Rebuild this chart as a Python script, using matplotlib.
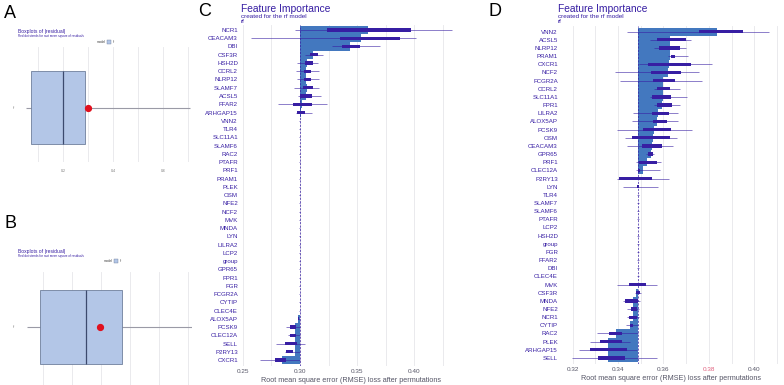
import matplotlib
matplotlib.use("Agg")
import matplotlib.pyplot as plt
from matplotlib.patches import Rectangle

plt.rcParams['font.family'] = ['Liberation Sans', 'DejaVu Sans']

W, H = 784, 385
NAVY = "#371ea3"
BAR = "#4378bf"
GRID = "#e6e6ea"

# ---------------- data ----------------
# Panel A / B : boxplots of |residual|
a_stats = dict(whislo=0.052, q1=0.072, med=0.20, q3=0.288, whishi=0.708, mean=0.30)
b_stats = dict(whislo=0.045, q1=0.090, med=0.248, q3=0.372, whishi=0.617, mean=0.297)
a_ticks = [0.2, 0.4, 0.6]
a_tick_labels = ["0.2", "0.4", "0.6"]

# Panel C : feature importance (RMSE loss after permutations)
c_baseline = 0.2998
c_features = ["NCR1", "CEACAM3", "DBI", "CSF3R", "HSH2D", "CCRL2", "NLRP12", "SLAMF7",
              "ACSL5", "FFAR2", "ARHGAP15", "VNN2", "TLR4", "SLC11A1", "SLAMF6", "RAC2",
              "PTAFR", "PRF1", "PRAM1", "PLEK", "OSM", "NFE2", "NCF2", "MVK", "MNDA", "LYN",
              "LILRA2", "LCP2", "group", "GPR65", "FPR1", "FGR", "FCGR2A", "CYTIP", "CLEC4E",
              "ALOX5AP", "PCSK9", "CLEC12A", "SELL", "P2RY13", "CXCR1"]
c_mean = [0.3594, 0.3532, 0.3439, 0.3110, 0.3060, 0.3050, 0.3050, 0.3060, 0.3050, 0.3020,
          0.3010] + [0.2998] * 24 + [0.2985, 0.2955, 0.2955, 0.2955, 0.2955, 0.2840]
c_q1 = [0.3234, 0.3350, 0.3366, 0.3089, 0.3046, 0.3038, 0.3035, 0.3029, 0.3000, 0.2942,
        0.2971] + [0.2996] * 24 + [0.2985, 0.2915, 0.2912, 0.2868, 0.2877, 0.2783]
c_q3 = [0.3971, 0.3880, 0.3526, 0.3156, 0.3117, 0.3094, 0.3094, 0.3111, 0.3103, 0.3103,
        0.3044] + [0.3000] * 24 + [0.2993, 0.2965, 0.2965, 0.2976, 0.2941, 0.2877]
c_lo = [0.2955, 0.2570, 0.3280, 0.3045, 0.2976, 0.2965, 0.2970, 0.2947, 0.2982, 0.2807,
        0.2965] + [0.2995] * 24 + [0.2980, 0.2880, 0.2895, 0.2792, 0.2870, 0.2650]
c_hi = [0.4333, 0.4015, 0.3700, 0.3203, 0.3161, 0.3170, 0.3170, 0.3170, 0.3182, 0.3240,
        0.3103] + [0.3001] * 24 + [0.3000, 0.3000, 0.3000, 0.3045, 0.3000, 0.3000]

# Panel D
d_baseline = 0.3488
d_features = ["VNN2", "ACSL5", "NLRP12", "PRAM1", "CXCR1", "NCF2", "FCGR2A", "CCRL2",
              "SLC11A1", "FPR1", "LILRA2", "ALOX5AP", "PCSK9", "OSM", "CEACAM3", "GPR65",
              "PRF1", "CLEC12A", "P2RY13", "LYN", "TLR4", "SLAMF7", "SLAMF6", "PTAFR", "LCP2",
              "HSH2D", "group", "FGR", "FFAR2", "DBI", "CLEC4E", "MVK", "CSF3R", "MNDA", "NFE2",
              "NCR1", "CYTIP", "RAC2", "PLEK", "ARHGAP15", "SELL"]
d_mean = [0.3837, 0.3629, 0.3629, 0.3629, 0.3626, 0.3620, 0.3599, 0.3600, 0.3598, 0.3592,
          0.3577, 0.3572, 0.3560, 0.3555, 0.3551, 0.3544, 0.3526, 0.3508, 0.3488, 0.3488] + \
         [0.3488] * 11 + [0.3490, 0.3480, 0.3465, 0.3465, 0.3465, 0.3453, 0.3390, 0.3357,
                          0.3357, 0.3357]
d_q1 = [0.3757, 0.3573, 0.3582, 0.3633, 0.3533, 0.3544, 0.3555, 0.3573, 0.3548, 0.3573,
        0.3548, 0.3555, 0.3511, 0.3460, 0.3504, 0.3532, 0.3494, 0.3486, 0.3406, 0.3485] + \
       [0.3486] * 11 + [0.3450, 0.3479, 0.3431, 0.3456, 0.3450, 0.3453, 0.3362, 0.3321,
                        0.3277, 0.3313]
d_q3 = [0.3951, 0.3699, 0.3673, 0.3651, 0.3720, 0.3677, 0.3651, 0.3629, 0.3633, 0.3636,
        0.3625, 0.3614, 0.3633, 0.3629, 0.3592, 0.3554, 0.3573, 0.3495, 0.3548, 0.3491] + \
       [0.3490] * 11 + [0.3523, 0.3497, 0.3489, 0.3485, 0.3485, 0.3468, 0.3416, 0.3416,
                        0.3441, 0.3431]
d_lo = [0.3438, 0.3540, 0.3560, 0.3620, 0.3492, 0.3387, 0.3409, 0.3560, 0.3540, 0.3560,
        0.3467, 0.3460, 0.3397, 0.3430, 0.3440, 0.3525, 0.3480, 0.3480, 0.3395, 0.3422] + \
       [0.3485] * 11 + [0.3397, 0.3475, 0.3420, 0.3440, 0.3440, 0.3435, 0.3309, 0.3277,
                        0.3230, 0.3196]
d_hi = [0.4065, 0.3720, 0.3700, 0.3708, 0.3812, 0.3757, 0.3768, 0.3673, 0.3705, 0.3673,
        0.3665, 0.3665, 0.3724, 0.3660, 0.3640, 0.3560, 0.3590, 0.3585, 0.3625, 0.3576] + \
       [0.3491] * 11 + [0.3570, 0.3500, 0.3497, 0.3492, 0.3492, 0.3490, 0.3489, 0.3453,
                        0.3485, 0.3570]
d_ticks = [0.32, 0.34, 0.36, 0.38, 0.40]
c_ticks = [0.25, 0.30, 0.35, 0.40]

# ---------------- layout helpers ----------------
fig = plt.figure(figsize=(W / 100, H / 100), dpi=100)


def rect(l, t, r, b):
    return [l / W, 1 - b / H, (r - l) / W, (b - t) / H]


def px(x, y):
    return x / W, 1 - y / H


# panel letters
for letter, (x, y) in zip("ABCD", [(4, 5), (4, 215), (198, 3), (489, 3)]):
    fig.text(*px(x, y), letter, fontsize=13, va="top", ha="left", color="black")


def residual_box(rect_px, st, xlim, ylim, title_y, legend_xy, show_labels=True):
    ax = fig.add_axes(rect(*rect_px))
    for s in ax.spines.values():
        s.set_visible(False)
    ax.set_xticks(a_ticks)
    ax.set_xticks([0.1, 0.3, 0.5, 0.7], minor=True)
    ax.set_xlim(*xlim)
    ax.set_ylim(*ylim)
    ax.grid(True, axis="x", which="both", color=GRID, lw=0.6)
    ax.set_axisbelow(True)
    ax.tick_params(axis="x", which="both", length=0, labelsize=2.5, colors="#777777",
                   pad=5)
    ax.set_xticklabels(a_tick_labels if show_labels else [])
    ax.set_yticks([0])
    ax.set_yticklabels(["rf"])
    ax.set_ylim(*ylim)
    ax.tick_params(axis="y", length=0, labelsize=2.5, colors="#777777", pad=2)
    ax.hlines(0, st["whislo"], st["whishi"], color="#9a9aa6", lw=0.8, zorder=2)
    ax.add_patch(Rectangle((st["q1"], -0.375), st["q3"] - st["q1"], 0.75,
                           facecolor="#b3c6e7", edgecolor="#6f7f9c", lw=0.6, zorder=3))
    ax.vlines(st["med"], -0.375, 0.375, color="#3c4a6e", lw=0.9, zorder=4)
    ax.plot([st["mean"]], [0], "o", color="#e0101e", ms=4.2, zorder=5)
    ax.set_xlim(*xlim)
    fig.text(*px(18, title_y), "Boxplots of |residual|", fontsize=3.6, color=NAVY,
             va="center")
    fig.text(*px(18, title_y + 5.5), "Red dot stands for root mean square of residuals",
             fontsize=2.2, color=NAVY, va="center")
    lx, ly = legend_xy
    fig.text(*px(lx, ly), "model", fontsize=2.4, color="#444444", va="center")
    fig.patches.append(Rectangle(px(lx + 10, ly + 2), 4 / W, 4 / H,
                                 transform=fig.transFigure, facecolor="#b3c6e7",
                                 edgecolor="#6f7f9c", lw=0.3))
    fig.text(*px(lx + 16, ly), "rf", fontsize=2.4, color="#444444", va="center")
    return ax


residual_box((18, 47, 192, 162), a_stats, (0.02, 0.716), (-0.56, 0.622), 31, (97, 42))
residual_box((18, 272, 192, 385), b_stats, (0.0138, 0.614), (-0.588, 0.557), 251,
             (104, 261), show_labels=False)


def importance(rect_px, feats, mean, q1, q3, lo, hi, base, xlim, ylim, ticks, minor,
               title_x, tick_colors=None):
    ax = fig.add_axes(rect(*rect_px))
    n = len(feats)
    ys = list(range(n))
    for s in ax.spines.values():
        s.set_visible(False)
    ax.set_xticks(ticks)
    ax.set_xticks(minor, minor=True)
    ax.set_xlim(*xlim)
    ax.grid(True, axis="x", which="both", color=GRID, lw=0.6)
    ax.set_axisbelow(True)
    ax.tick_params(axis="x", which="both", length=0, labelsize=4.6, colors="#555566",
                   pad=2)
    ax.set_xticklabels(["%.2f" % t for t in ticks])
    if tick_colors:
        for lab, c in zip(ax.get_xticklabels(), tick_colors):
            lab.set_color(c)
    ax.set_yticks(ys)
    ax.set_yticklabels(feats)
    ax.set_ylim(*ylim)
    ax.tick_params(axis="y", length=0, labelsize=4.4, colors=NAVY, pad=1.5)
    # bars from baseline to mean loss
    ax.barh(ys, [m - base for m in mean], left=base, height=1.0, color=BAR, lw=0,
            zorder=2)
    ax.axvline(base, color=NAVY, lw=0.5, ls=(0, (3, 2)), zorder=3)
    # permutation boxplots
    ax.hlines(ys, lo, hi, color=NAVY, lw=0.5, alpha=0.8, zorder=4)
    for y, a, b in zip(ys, q1, q3):
        w = max(b - a, (xlim[1] - xlim[0]) * 0.004)
        ax.add_patch(Rectangle((a, y - 0.2), w, 0.4, facecolor=NAVY, lw=0, zorder=5))
    ax.set_xlim(*xlim)
    ax.set_ylim(*ylim)
    ax.set_xlabel("Root mean square error (RMSE) loss after permutations", fontsize=5.2,
                  color="#555566", labelpad=2)
    fig.text(*px(title_x, 9), "Feature Importance", fontsize=7.4, color=NAVY,
             va="center")
    fig.text(*px(title_x, 16.5), "created for the rf model", fontsize=4.6, color=NAVY,
             va="center")
    fig.text(*px(title_x, 21.5), "rf", fontsize=4.6, color=NAVY, va="center")
    return ax


importance((240, 25, 462, 366), c_features, c_mean, c_q1, c_q3, c_lo, c_hi, c_baseline,
           (0.2474, 0.442), (40.727, -0.606), c_ticks,
           [0.275, 0.325, 0.375, 0.425], 241)
importance((560, 26, 782, 364), d_features, d_mean, d_q1, d_q3, d_lo, d_hi, d_baseline,
           (0.3145, 0.4121), (40.74, -0.70), d_ticks,
           [0.33, 0.35, 0.37, 0.39, 0.41], 558,
           tick_colors=["#555566", "#555566", "#555566", "#e0607e", "#555566"])

fig.savefig("out.png", dpi=100)
